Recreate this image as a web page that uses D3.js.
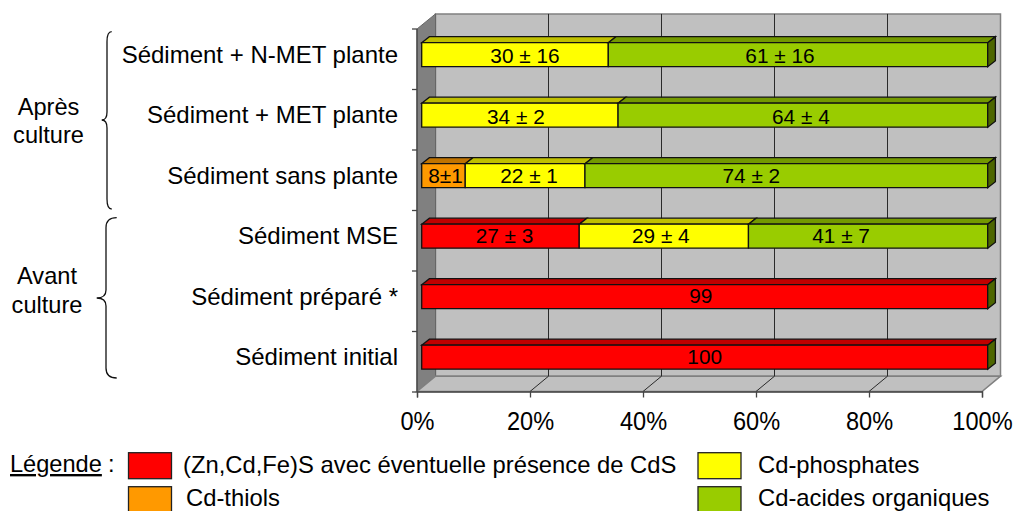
<!DOCTYPE html>
<html><head><meta charset="utf-8">
<script src="https://cdn.jsdelivr.net/npm/d3@7/dist/d3.min.js"></script>
<style>html,body{margin:0;padding:0;background:#fff;overflow:hidden}svg{display:block}text{font-family:"Liberation Sans",Arial,sans-serif;fill:#000}</style>
</head><body><script>
const categories = ["Sédiment + N-MET plante","Sédiment + MET plante","Sédiment sans plante","Sédiment MSE","Sédiment préparé *","Sédiment initial"];
const seriesNames = ["(Zn,Cd,Fe)S avec éventuelle présence de CdS","Cd-thiols","Cd-phosphates","Cd-acides organiques"];
const sulfides  = [0,0,0,27,99,100];
const thiols    = [0,0,8,0,0,0];
const phosphates= [30,34,22,29,0,0];
const organics  = [61,64,74,41,0,0];
const sulfideLabels  = ["","","","27 ± 3","99","100"];
const thiolLabels    = ["","","8±1","","",""];
const phosphateLabels= ["30 ± 16","34 ± 2","22 ± 1","29 ± 4","",""];
const organicLabels  = ["61 ± 16","64 ± 4","74 ± 2","41 ± 7","",""];
const tickValues = [0,0.2,0.4,0.6,0.8,1];
const groupNames = [["Après","culture"],["Avant","culture"]];

const colors = ["#FF0000","#FF9900","#FFFF00","#99CC00"];
const topColors = ["#C00000","#C07300","#C0C000","#739900"];
const sideColor = "#4D6600";
// hand-placed label shifts in the original figure (px from segment centre)
const labelShift = [
  [0,0,0,4,-4,0],
  [0,0,2,0,0,0],
  [10,-4,4,-3,0,0],
  [-18,-2,-35,-27,0,0]
];
const rowLabelLift = [0,0,.7,1.7,1.7,1.7];

const W=1014,H=511;
const svg=d3.select("body").append("svg").attr("width",W).attr("height",H);
const x=d3.scaleLinear().domain([0,1]).range([417,982]);
const y=d3.scaleBand().domain(categories).range([29,392]);
const wallDx=18.5, wallDy=15.3;
const yTop=29, yBot=391.5, backBot=yBot-wallDy, backTop=yTop-wallDy+.2;
const xB=v=>x(v)+wallDx;

const poly=(pts,fill,stroke,sw)=>svg.append("polygon").attr("points",pts.map(p=>p.join(",")).join(" ")).attr("fill",fill).attr("stroke",stroke||"none").attr("stroke-width",sw||1);
// walls
poly([[xB(0),backTop],[xB(1),backTop],[xB(1),backBot],[xB(0),backBot]],"#C0C0C0","#808080",1.5);
poly([[x(0),yTop],[xB(0),backTop],[xB(0),backBot],[x(0),yBot]],"#808080","#666",1);
poly([[x(0),yBot],[xB(0),backBot],[xB(1),backBot],[x(1),yBot]],"#C0C0C0","#808080",1.5);
// gridlines
tickValues.slice(1,5).forEach(t=>{
  svg.append("path").attr("d",`M${xB(t)},${backTop}V${backBot}L${x(t)},${yBot}`).attr("fill","none").attr("stroke","#2a2a2a").attr("stroke-width",1);
});
// axes
const xAxis=svg.append("g").attr("transform",`translate(0,${yBot})`).call(d3.axisBottom(x).tickValues(tickValues).tickFormat(d3.format(".0%")).tickSize(6).tickPadding(9));
xAxis.selectAll("path,line").attr("stroke","#444").attr("stroke-width",1.3);
xAxis.selectAll("text").style("font-size","25.5px").style("font-family",'"Liberation Sans"').attr("fill","#000").attr("dy",0).attr("y",38.5).attr("transform","scale(.925,1)");
const yAxis=svg.append("g").attr("transform",`translate(${x(0)},0)`);
yAxis.append("path").attr("d",`M0,${yTop}V${yBot}`).attr("stroke","#444").attr("stroke-width",1.3);
[...categories,null].forEach((c,i)=>{
  const yy=yTop+i*y.step();
  yAxis.append("line").attr("x1",-5).attr("x2",0).attr("y1",yy).attr("y2",yy).attr("stroke","#444").attr("stroke-width",1.3);
});
svg.append("g").selectAll("text").data(categories).join("text")
  .attr("x",398).attr("y",d=>y(d)+y.step()/2+3.5).attr("text-anchor","end").style("font-size","24px").text(d=>d);

// stacked bars
const table=categories.map((c,i)=>({c,0:sulfides[i],1:thiols[i],2:phosphates[i],3:organics[i]}));
const stacked=d3.stack().keys([0,1,2,3]).offset(d3.stackOffsetExpand)(table);
const labels=[sulfideLabels,thiolLabels,phosphateLabels,organicLabels];
const bx=d3.scaleLinear().domain([0,1]).range([421.7,987.7]);
const bh=24, ddx=7.7, ddy=6;
const barY=c=>y(c)+(y.step()-bh)/2-4.6;
stacked.forEach((s,si)=>{
  s.forEach((d,i)=>{
    const w=bx(d[1])-bx(d[0]); if(!(w>0))return;
    const yy=barY(categories[i]), x0=bx(d[0]), x1=bx(d[1]);
    poly([[x0,yy],[x0+ddx,yy-ddy],[x1+ddx,yy-ddy],[x1,yy]],topColors[si],"#111",1.3);
    poly([[x0,yy],[x1,yy],[x1,yy+bh],[x0,yy+bh]],colors[si],"#111",1.3);
  });
});
categories.forEach(c=>{
  const yy=barY(c), xe=bx(1);
  poly([[xe,yy],[xe+ddx,yy-ddy],[xe+ddx,yy+bh-ddy],[xe,yy+bh]],sideColor,"#111",1.3);
});
stacked.forEach((s,si)=>{
  s.forEach((d,i)=>{
    if(!labels[si][i])return;
    svg.append("text").attr("x",(bx(d[0])+bx(d[1]))/2+labelShift[si][i]).attr("y",barY(categories[i])+20.5-rowLabelLift[i])
      .attr("text-anchor","middle").style("font-size","20.8px").text(labels[si][i]);
  });
});

// braces
const braces=svg.append("g").attr("fill","none").attr("stroke","#111").attr("stroke-width",1.3);
const brace=(xs,xm,xt,t,m,b)=>`M${xs},${t}Q${xm},${t} ${xm},${t+10}V${m-8}Q${xm},${m} ${xt},${m}Q${xm},${m} ${xm},${m+8}V${b-10}Q${xm},${b} ${xs},${b}`;
braces.append("path").attr("d",brace(111.7,107,101.7,31.7,120,209));
braces.append("path").attr("d",brace(116.7,106,96.7,217.7,298,378));
const gl=[[48.5,115.2,143],[47,284,313]];
groupNames.forEach((g,i)=>g.forEach((t,j)=>svg.append("text").attr("x",gl[i][0]).attr("y",gl[i][j+1]).attr("text-anchor","middle").style("font-size","23.6px").text(t)));

// legend
svg.append("text").attr("x",10).attr("y",472).style("font-size","23.6px").attr("text-decoration","underline").text("Légende");
svg.append("text").attr("x",108).attr("y",472).style("font-size","23.6px").text(":");
const lg=[[128.5,452.7,183,473],[128.5,486.7,186,506],[698,452.7,758,473],[698,486.7,758,506]];
[0,1,2,3].forEach(i=>{
  const p=lg[i];
  svg.append("rect").attr("x",p[0]).attr("y",p[1]).attr("width",43).attr("height",26).attr("fill",colors[i]).attr("stroke","#222").attr("stroke-width",1.3);
  svg.append("text").attr("x",p[2]).attr("y",p[3]).style("font-size","23.8px").text(seriesNames[i]);
});
</script></body></html>
